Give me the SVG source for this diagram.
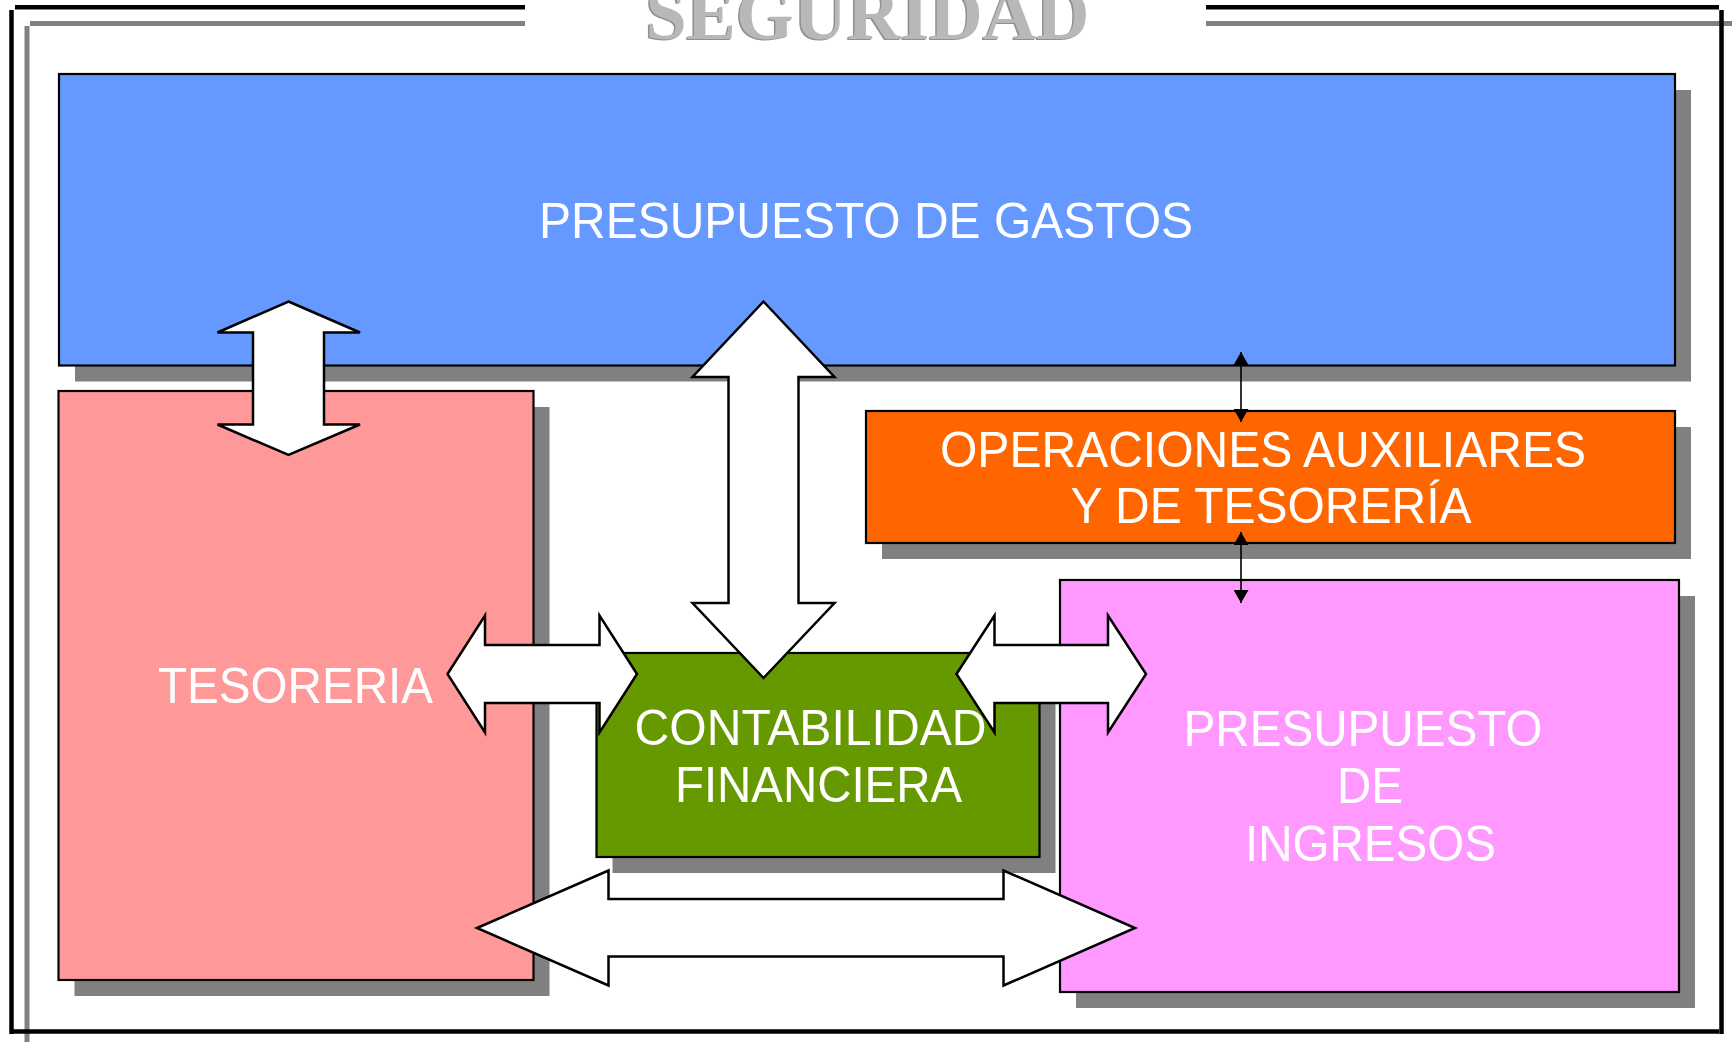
<svg xmlns="http://www.w3.org/2000/svg" width="1732" height="1042" viewBox="0 0 1732 1042">
<style>
.bk{stroke:#000;stroke-width:4.5;fill:none}
.gy{stroke:#808080;stroke-width:5;fill:none}
.shadow{fill:#808080}
.box{stroke:#000;stroke-width:2.2}
.lbl{font-family:"Liberation Sans",Arial,sans-serif;font-size:50px;fill:#fff;text-anchor:middle}
.arrow{fill:#fff;stroke:#000;stroke-width:2.5;stroke-linejoin:miter}
.title{font-family:"Liberation Serif","Times New Roman",serif;font-weight:bold;font-size:74px;text-anchor:middle}
</style>
<defs>
<marker id="ah" viewBox="0 0 13 15" refX="13" refY="7.5" markerWidth="13" markerHeight="15" markerUnits="userSpaceOnUse" orient="auto-start-reverse">
<path d="M0,0 L13,7.5 L0,15 z" fill="#000"/>
</marker>
</defs>
<rect width="1732" height="1042" fill="#fff"/>
<g id="frame">
<line class="gy" x1="30" y1="23.5" x2="525" y2="23.5"/>
<line class="gy" x1="1206" y1="23.5" x2="1732" y2="23.5"/>
<line class="gy" x1="27" y1="26" x2="27" y2="1042"/>
<line class="bk" x1="15" y1="7.2" x2="525" y2="7.2"/>
<line class="bk" x1="1206" y1="7.2" x2="1719" y2="7.2"/>
<line class="bk" x1="11.5" y1="10" x2="11.5" y2="1034"/>
<line class="bk" x1="1721.5" y1="10" x2="1721.5" y2="1034"/>
<line class="bk" x1="11" y1="1031.5" x2="1719" y2="1031.5"/>
</g>
<g id="title">
<text class="title" x="866" y="40" fill="#8f8f8f">SEGURIDAD</text>
<text class="title" x="867.5" y="38.5" fill="#b8b8b8">SEGURIDAD</text>
</g>
<g id="presupuesto-gastos">
<rect class="shadow" x="75" y="90" width="1616" height="291.5"/>
<rect class="box" x="59" y="74" width="1616" height="291.5" fill="#6699FF"/>
<text class="lbl" x="866" y="237.5" textLength="654" lengthAdjust="spacingAndGlyphs">PRESUPUESTO DE GASTOS</text>
</g>
<g id="tesoreria">
<rect class="shadow" x="74.5" y="407" width="475" height="589"/>
<rect class="box" x="58.5" y="391" width="475" height="589" fill="#FF9999"/>
<text class="lbl" x="295.5" y="702.5" textLength="275" lengthAdjust="spacingAndGlyphs">TESORERIA</text>
</g>
<g id="operaciones-auxiliares">
<rect class="shadow" x="882" y="427" width="809" height="132"/>
<rect class="box" x="866" y="411" width="809" height="132" fill="#FF6600"/>
<text class="lbl" x="1263" y="467" textLength="646" lengthAdjust="spacingAndGlyphs">OPERACIONES AUXILIARES</text>
<text class="lbl" x="1271" y="523" textLength="401" lengthAdjust="spacingAndGlyphs">Y DE TESORERÍA</text>
</g>
<g id="presupuesto-ingresos">
<rect class="shadow" x="1076" y="596" width="619" height="412"/>
<rect class="box" x="1060" y="580" width="619" height="412" fill="#FF99FF"/>
<text class="lbl" x="1363" y="746" textLength="359" lengthAdjust="spacingAndGlyphs">PRESUPUESTO</text>
<text class="lbl" x="1370" y="803" textLength="66" lengthAdjust="spacingAndGlyphs">DE</text>
<text class="lbl" x="1370.5" y="860.5" textLength="251" lengthAdjust="spacingAndGlyphs">INGRESOS</text>
</g>
<g id="contabilidad-financiera">
<rect class="shadow" x="612.5" y="669" width="443" height="204"/>
<rect class="box" x="596.5" y="653" width="443" height="204" fill="#669900"/>
<text class="lbl" x="810.5" y="744.5" textLength="352" lengthAdjust="spacingAndGlyphs">CONTABILIDAD</text>
<text class="lbl" x="818.5" y="802" textLength="287" lengthAdjust="spacingAndGlyphs">FINANCIERA</text>
</g>
<g id="connectors">
<polygon class="arrow" points="288.5,301.5 360,332.5 324,332.5 324,424.5 360,424.5 288.5,455 217.5,424.5 253,424.5 253,332.5 217.5,332.5"/>
<polygon class="arrow" points="763.5,301.5 834.5,377 798.5,377 798.5,603 834.5,603 763.5,678 692.5,603 728.5,603 728.5,377 692.5,377"/>
<polygon class="arrow" points="447.5,674 485,615.5 485,645 599.5,645 599.5,615.5 637,674 599.5,732.5 599.5,703 485,703 485,732.5"/>
<polygon class="arrow" points="956.5,674 994.5,615.5 994.5,645 1108,645 1108,615.5 1146,674 1108,732.5 1108,703 994.5,703 994.5,732.5"/>
<polygon class="arrow" points="477,928 608.5,870.5 608.5,899 1003.5,899 1003.5,870.5 1135,928 1003.5,985.5 1003.5,956.5 608.5,956.5 608.5,985.5"/>
<line x1="1241" y1="352" x2="1241" y2="422" stroke="#000" stroke-width="1.6" marker-start="url(#ah)" marker-end="url(#ah)"/>
<line x1="1241" y1="532" x2="1241" y2="603" stroke="#000" stroke-width="1.6" marker-start="url(#ah)" marker-end="url(#ah)"/>
</g>
</svg>
